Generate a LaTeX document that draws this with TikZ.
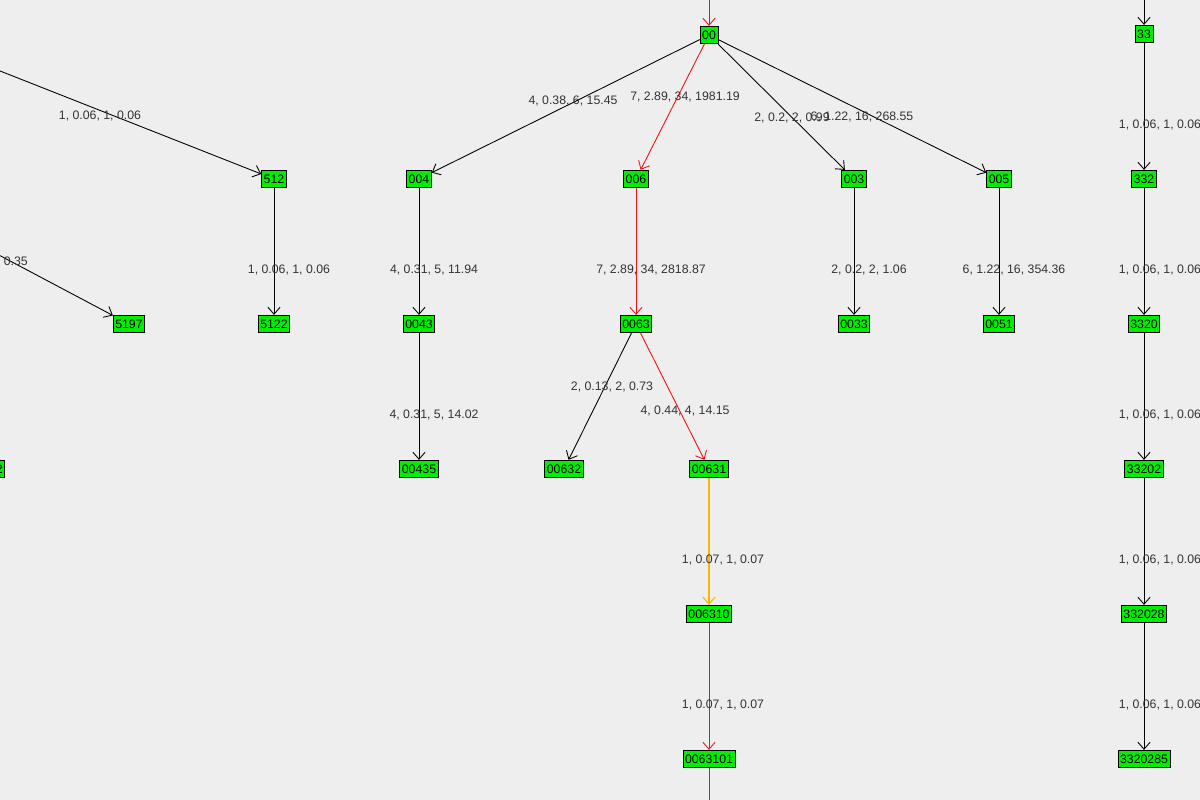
\documentclass[tikz,border=0pt]{standalone}
\usepackage{fontspec}
\setmainfont{Liberation Sans}
\usetikzlibrary{arrows.meta}
\definecolor{bgcol}{HTML}{EEEEEE}
\definecolor{boxgreen}{HTML}{00EE00}
\definecolor{pathred}{HTML}{EE1111}
\definecolor{pathyellow}{HTML}{F0B800}

\begin{document}
\begin{tikzpicture}[x=0.02cm,y=-0.02cm,>={Straight Barb[length=4pt,width=7pt]},
	vert/.style={draw=black,fill=boxgreen,inner sep=1.2pt,font=\fontsize{7}{8}\selectfont,minimum height=10pt},
	lbl/.style={font=\fontsize{7}{8}\selectfont,text=black!80},
	edge/.style={->,black,line width=0.5pt},
	hot/.style={->,pathred,line width=0.5pt},
	warm/.style={->,pathyellow,line width=0.6pt}]

	% Background and clipping window
	\fill[bgcol] (0,0) rectangle (1200,800);
	\useasboundingbox (0,0) rectangle (1200,800);
	\clip (0,0) rectangle (1200,800);

	% Vertices, row by row
	\node[vert] (00) at (709,35) {00};
	\node[vert] (33) at (1144,34) {33};
	\node[vert] (512) at (274,179) {512};
	\node[vert] (004) at (419,179) {004};
	\node[vert] (006) at (636,179) {006};
	\node[vert] (003) at (854,179) {003};
	\node[vert] (005) at (999,179) {005};
	\node[vert] (332) at (1144,179) {332};
	\node[vert] (5197) at (129,324) {5197};
	\node[vert] (5122) at (274,324) {5122};
	\node[vert] (0043) at (419,324) {0043};
	\node[vert] (0063) at (636,324) {0063};
	\node[vert] (0033) at (854,324) {0033};
	\node[vert] (0051) at (999,324) {0051};
	\node[vert] (3320) at (1144,324) {3320};
	\node[vert] (5192) at (-11,469) {5192};
	\node[vert] (00435) at (419,469) {00435};
	\node[vert] (00632) at (564,469) {00632};
	\node[vert] (00631) at (709,469) {00631};
	\node[vert] (33202) at (1144,469) {33202};
	\node[vert] (006310) at (709,614) {006310};
	\node[vert] (332028) at (1144,614) {332028};
	\node[vert] (0063101) at (709,759) {0063101};
	\node[vert] (3320285) at (1144,759) {3320285};

	% Loose ends leaving the window
	\coordinate (topA) at (709,-40);
	\coordinate (topB) at (1144,-40);
	\coordinate (leftA) at (-180,0);
	\coordinate (leftB) at (-120,192);
	\coordinate (botA) at (709,840);

	% Connectors
	\draw[hot] (topA) -- (00);
	\draw[edge] (topB) -- (33);
	\draw[edge] (leftA) -- (512);
	\draw[edge] (leftB) -- (5197);
	\draw[edge] (00) -- (004);
	\draw[hot] (00) -- (006);
	\draw[edge] (00) -- (003);
	\draw[edge] (00) -- (005);
	\draw[edge] (33) -- (332);
	\draw[edge] (512) -- (5122);
	\draw[edge] (004) -- (0043);
	\draw[hot] (006) -- (0063);
	\draw[edge] (003) -- (0033);
	\draw[edge] (005) -- (0051);
	\draw[edge] (332) -- (3320);
	\draw[edge] (0043) -- (00435);
	\draw[edge] (0063) -- (00632);
	\draw[hot] (0063) -- (00631);
	\draw[edge] (3320) -- (33202);
	\draw[warm] (00631) -- (006310);
	\draw[edge] (33202) -- (332028);
	\draw[hot] (006310) -- (0063101);
	\draw[edge] (332028) -- (3320285);
	\draw[pathred,line width=0.5pt] (0063101) -- (botA);

	% Edge labels
	\foreach \x/\y/\t in {100/116/{1, 0.06, 1, 0.06}, 573/101/{4, 0.38, 6, 15.45},
		685/97/{7, 2.89, 34, 1981.19}, 792/118/{2, 0.2, 2, 0.99},
		862/117/{6, 1.22, 16, 268.55}, 1160/125/{1, 0.06, 1, 0.06},
		289/270/{1, 0.06, 1, 0.06}, 434/270/{4, 0.31, 5, 11.94},
		651/270/{7, 2.89, 34, 2818.87}, 869/270/{2, 0.2, 2, 1.06},
		1014/270/{6, 1.22, 16, 354.36}, 1160/270/{1, 0.06, 1, 0.06},
		434/415/{4, 0.31, 5, 14.02}, 612/387/{2, 0.13, 2, 0.73},
		685/411/{4, 0.44, 4, 14.15}, 1160/415/{1, 0.06, 1, 0.06},
		723/560/{1, 0.07, 1, 0.07}, 1160/560/{1, 0.06, 1, 0.06},
		723/705/{1, 0.07, 1, 0.07}, 1160/705/{1, 0.06, 1, 0.06}}
		\node[lbl] at (\x,\y) {\t};
	\node[lbl,anchor=east] at (34,262) {2, 0.35};

\end{tikzpicture}
\end{document}
